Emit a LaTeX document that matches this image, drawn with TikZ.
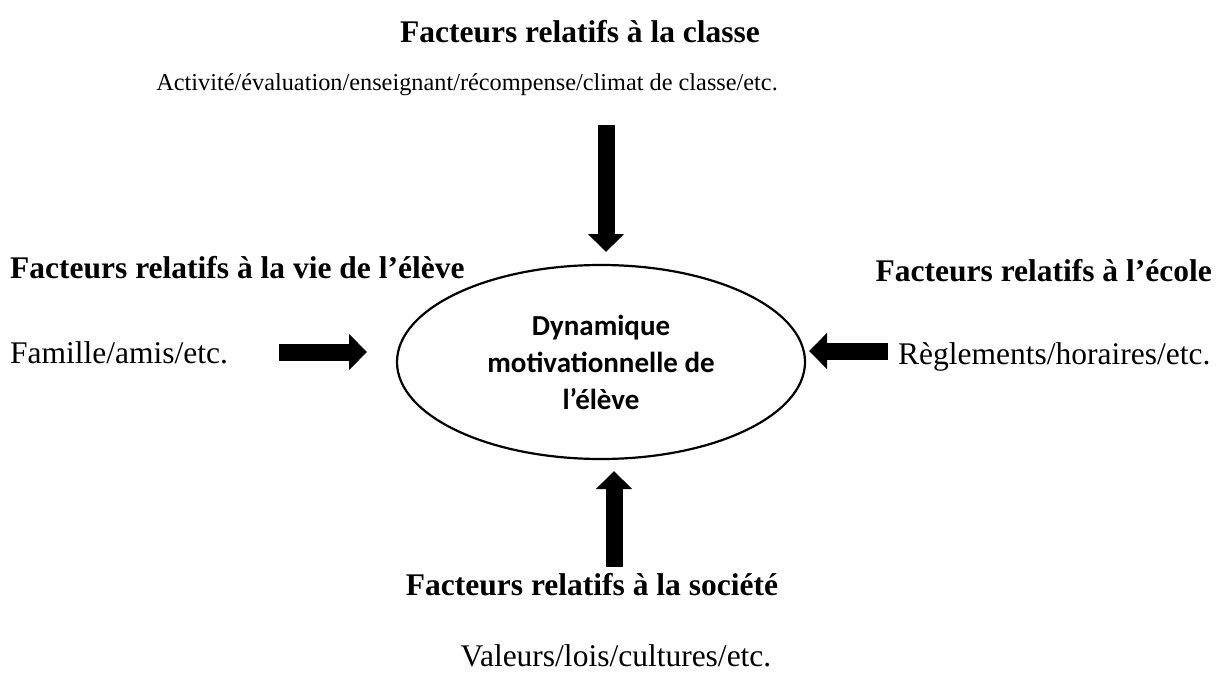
\documentclass[tikz,border=0pt]{standalone}
\usepackage{fontspec}
\setmainfont{Liberation Serif}
\newfontfamily\calib{Carlito}
\usetikzlibrary{shapes.geometric,arrows.meta}
\tikzset{
  lbl/.style={inner sep=0pt, font=\fontsize{31.5}{38}\selectfont},
  blbl/.style={lbl, font=\fontsize{31.5}{38}\selectfont\bfseries},
  blockarrow/.style={line width=17pt, -{Triangle[width=35pt,length=18pt]}},
  core/.style={ellipse, draw, line width=2.2pt, minimum width=408pt, minimum height=194pt, inner sep=0pt, align=center, font=\calib\bfseries\fontsize{29}{37}\selectfont}
}
\begin{document}
\begin{tikzpicture}[x=1pt,y=-1pt]
\useasboundingbox (0,0) rectangle (1222,674);
\node[core] (dyn) at (601,362) {Dynamique\\motivationnelle de\\l’élève};
\node[blbl, anchor=base] (tclasse) at (580,43) {Facteurs relatifs à la classe};
\node[lbl, anchor=base, font=\fontsize{24.3}{30}\selectfont] (tact) at (467,91) {Activité/évaluation/enseignant/récompense/climat de classe/etc.};
\node[blbl, anchor=base west] (tvie) at (10,278) {Facteurs relatifs à la vie de l’élève};
\node[lbl, anchor=base west] (tfam) at (10,363) {Famille/amis/etc.};
\node[blbl, anchor=base east] (tecole) at (1212,281) {Facteurs relatifs à l’école};
\node[lbl, anchor=base west] (tregl) at (898,364) {Règlements/horaires/etc.};
\node[blbl, anchor=base] (tsoc) at (592,595) {Facteurs relatifs à la société};
\node[lbl, anchor=base] (tval) at (616,666) {Valeurs/lois/cultures/etc.};
\coordinate (a1s) at (606,125); \coordinate (a1e) at (606,252);
\coordinate (a2s) at (614,567); \coordinate (a2e) at (614,471);
\coordinate (a3s) at (279,352); \coordinate (a3e) at (367,352);
\coordinate (a4s) at (888,351); \coordinate (a4e) at (809,351);
\draw[blockarrow] (a1s) -- (a1e);
\draw[blockarrow] (a2s) -- (a2e);
\draw[blockarrow] (a3s) -- (a3e);
\draw[blockarrow] (a4s) -- (a4e);
\end{tikzpicture}
\end{document}
